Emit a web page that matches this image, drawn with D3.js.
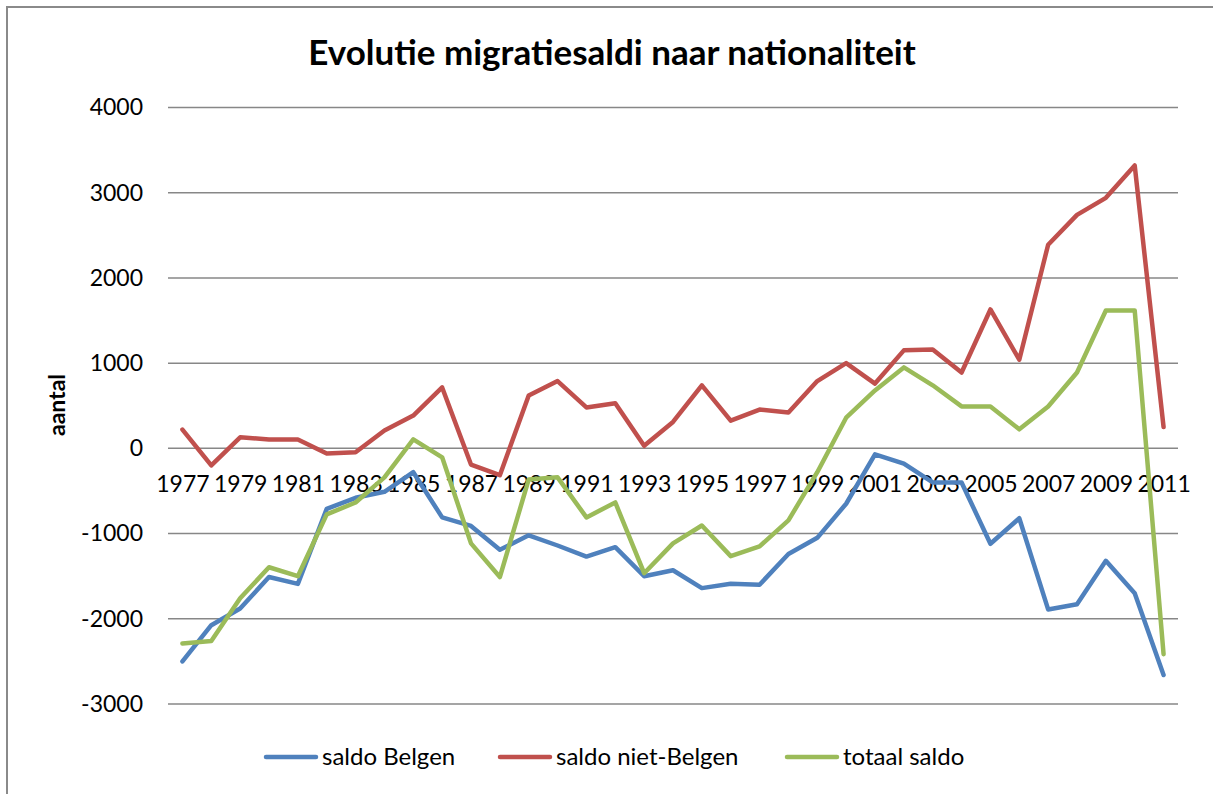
<!DOCTYPE html>
<html>
<head>
<meta charset="utf-8">
<script src="https://cdn.jsdelivr.net/npm/d3@7"></script>
<style>
  body { margin: 0; background: #fff; }
  svg { display: block; font-family: Lato, "Open Sans", sans-serif; }
</style>
</head>
<body>
<div class="canvas"></div>
<script>
// data
const years = [1977, 1978, 1979, 1980, 1981, 1982, 1983, 1984, 1985, 1986, 1987, 1988,
  1989, 1990, 1991, 1992, 1993, 1994, 1995, 1996, 1997, 1998, 1999, 2000,
  2001, 2002, 2003, 2004, 2005, 2006, 2007, 2008, 2009, 2010, 2011]

const saldoBelgen = [-2500, -2075, -1880, -1510, -1590, -710, -580, -510, -280, -810, -910, -1190,
  -1020, -1140, -1270, -1160, -1500, -1430, -1640, -1590, -1600, -1240, -1050, -650,
  -70, -180, -400, -400, -1120, -820, -1890, -1830, -1320, -1700, -2660]

const saldoNietBelgen = [220, -200, 130, 105, 105, -60, -45, 210, 385, 715, -190, -315,
  620, 790, 480, 530, 30, 310, 740, 325, 455, 420, 790, 1000,
  760, 1150, 1160, 890, 1630, 1040, 2390, 2740, 2940, 3320, 250]

const totaalSaldo = [-2290, -2260, -1760, -1395, -1500, -775, -635, -340, 105, -105, -1115, -1510,
  -365, -340, -810, -635, -1465, -1115, -905, -1265, -1150, -845, -280, 360,
  680, 950, 740, 492, 492, 223, 492, 891, 1618, 1618, -2415]

const yTicks = [-3000, -2000, -1000, 0, 1000, 2000, 3000, 4000]
const xTickYears = years.filter((d, i) => i % 2 === 0)

const series = [
  { name: 'saldo Belgen', values: saldoBelgen, color: '#4F81BD' },
  { name: 'saldo niet-Belgen', values: saldoNietBelgen, color: '#C0504D' },
  { name: 'totaal saldo', values: totaalSaldo, color: '#9BBB59' }
]

// dimensions
const dims = { width: 1213, height: 794 }
const plot = { left: 168, right: 1178, top: 107.5, bottom: 704 }

const svg = d3.select('.canvas')
  .append('svg')
  .attr('width', dims.width)
  .attr('height', dims.height)

// outer frame (only left and top edges are visible in the picture)
svg.append('rect')
  .attr('x', 7).attr('y', 7)
  .attr('width', 1230).attr('height', 820)
  .attr('fill', 'none')
  .attr('stroke', '#8a8a8a')
  .attr('stroke-width', 2)

const x = d3.scalePoint()
  .domain(years)
  .range([plot.left, plot.right])
  .padding(0.5)

const y = d3.scaleLinear()
  .domain([-3000, 4000])
  .range([plot.bottom, plot.top])

// gridlines
svg.append('g')
  .selectAll('line')
  .data(yTicks)
  .enter().append('line')
    .attr('x1', plot.left)
    .attr('x2', plot.right)
    .attr('y1', d => y(d))
    .attr('y2', d => y(d))
    .attr('stroke', '#878787')
    .attr('stroke-width', 1.5)

// y axis (plain hyphen for negatives, like the original)
const yAxis = d3.axisLeft(y)
  .tickValues(yTicks)
  .tickSize(0)
  .tickPadding(25)
  .tickFormat(d => String(d))

svg.append('g')
  .attr('transform', `translate(${plot.left}, 0)`)
  .call(yAxis)
  .call(g => g.select('.domain').remove())
  .selectAll('text')
    .attr('font-family', 'Lato, sans-serif')
    .attr('font-size', 23)
    .attr('fill', '#000')

// x axis at zero
const xAxis = d3.axisBottom(x)
  .tickValues(xTickYears)
  .tickSize(0)
  .tickPadding(27)

svg.append('g')
  .attr('transform', `translate(0, ${y(0)})`)
  .call(xAxis)
  .call(g => g.select('.domain').remove())
  .selectAll('text')
    .attr('font-family', 'Lato, sans-serif')
    .attr('font-size', 23)
    .attr('fill', '#000')

// lines
const line = d3.line()
  .x((d, i) => x(years[i]))
  .y(d => y(d))

svg.append('g')
  .selectAll('path')
  .data(series)
  .enter().append('path')
    .attr('d', d => line(d.values))
    .attr('fill', 'none')
    .attr('stroke', d => d.color)
    .attr('stroke-width', 4.5)
    .attr('stroke-linejoin', 'round')
    .attr('stroke-linecap', 'round')

// title
svg.append('text')
  .attr('x', 612)
  .attr('y', 65)
  .attr('text-anchor', 'middle')
  .attr('font-weight', 'bold')
  .attr('font-size', 35)
  .text('Evolutie migratiesaldi naar nationaliteit')

// y label
svg.append('text')
  .attr('transform', 'translate(65, 405) rotate(-90)')
  .attr('text-anchor', 'middle')
  .attr('font-weight', 'bold')
  .attr('font-size', 23)
  .text('aantal')

// legend
const legendX = [264, 498, 785]
const legend = svg.append('g')
  .selectAll('g')
  .data(series)
  .enter().append('g')
    .attr('transform', (d, i) => `translate(${legendX[i]}, 757)`)

legend.append('line')
  .attr('x1', 2).attr('x2', 52)
  .attr('stroke', d => d.color)
  .attr('stroke-width', 4.5)
  .attr('stroke-linecap', 'round')

legend.append('text')
  .attr('x', 58)
  .attr('y', 8)
  .attr('font-size', 24)
  .text(d => d.name)
</script>
</body>
</html>
